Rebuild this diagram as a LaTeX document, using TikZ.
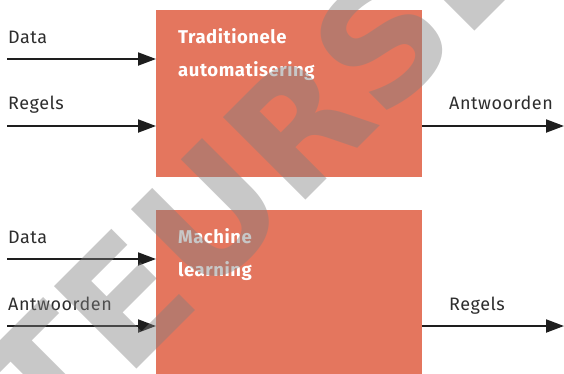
\documentclass[tikz,border=0pt]{standalone}
\usepackage{fontspec}
\setmainfont{Fira Sans}
\newfontfamily\markfont{DejaVu Sans}
\usetikzlibrary{arrows.meta}
\definecolor{boxorange}{RGB}{228,118,94}
\definecolor{labelgray}{RGB}{45,45,45}
\definecolor{arrowdark}{RGB}{30,30,30}
\definecolor{markgray}{RGB}{127,127,127}
\begin{document}
\begin{tikzpicture}[x=1pt,y=-1pt,
  procbox/.style={fill=boxorange, draw=none, inner sep=0pt, anchor=north west,
                  minimum width=266pt},
  boxtext/.style={anchor=base west, inner sep=0pt, text=white,
                  font=\fontsize{18.5}{20}\selectfont\bfseries\addfontfeatures{LetterSpace=3}},
  label/.style={anchor=base west, inner sep=0pt, text=labelgray,
                font=\fontsize{18}{20}\selectfont\addfontfeatures{LetterSpace=3}},
  flow/.style={draw=arrowdark, line width=2pt,
               -{Triangle[length=18pt,width=13pt]}},
  watermark/.style={rotate=45, inner sep=0pt,
                    text=markgray, opacity=0.43,
                    font=\fontsize{160}{160}\selectfont\markfont\bfseries}]
\useasboundingbox (0,0) rectangle (564,373);

% the two processes
\node[procbox, minimum height=167pt] (trad) at (156,10) {};
\node[procbox, minimum height=170pt] (ml) at (156,210) {};

\node[boxtext] (tradA) at (178,43) {Traditionele};
\node[boxtext] (tradB) at (178,76) {automatisering};
\node[boxtext] (mlA) at (178,243) {Machine};
\node[boxtext] (mlB) at (178,276) {learning};

% inputs and outputs of traditional automation
\coordinate (tIn1) at (7,59);
\coordinate (tIn2) at (7,126);
\coordinate (tOut) at (564,126);
\node[label] (tData) at (8,43) {Data};
\node[label] (tRules) at (8,109) {Regels};
\node[label] (tAns) at (449,109) {Antwoorden};
\draw[flow] (tIn1) -- (tIn1 -| trad.west);
\draw[flow] (tIn2) -- (tIn2 -| trad.west);
\draw[flow] (tOut -| trad.east) -- (tOut);

% inputs and outputs of machine learning
\coordinate (mIn1) at (7,259);
\coordinate (mIn2) at (7,326);
\coordinate (mOut) at (564,326);
\node[label] (mData) at (8,243) {Data};
\node[label] (mAns) at (8,310) {Antwoorden};
\node[label] (mRules) at (449,310) {Regels};
\draw[flow] (mIn1) -- (mIn1 -| ml.west);
\draw[flow] (mIn2) -- (mIn2 -| ml.west);
\draw[flow] (mOut -| ml.east) -- (mOut);

% diagonal overlay lettering, set on a 45 degree baseline
\begin{scope}
\clip (0,0) rectangle (564,373);
\coordinate (markR) at (295.4,210.6);
\node[watermark, anchor=base east] (markA) at (markR) {AUTEU};
\node[watermark, anchor=base west] (markB) at (markR) {RSEXEMPLAAR};
\end{scope}
\end{tikzpicture}
\end{document}
